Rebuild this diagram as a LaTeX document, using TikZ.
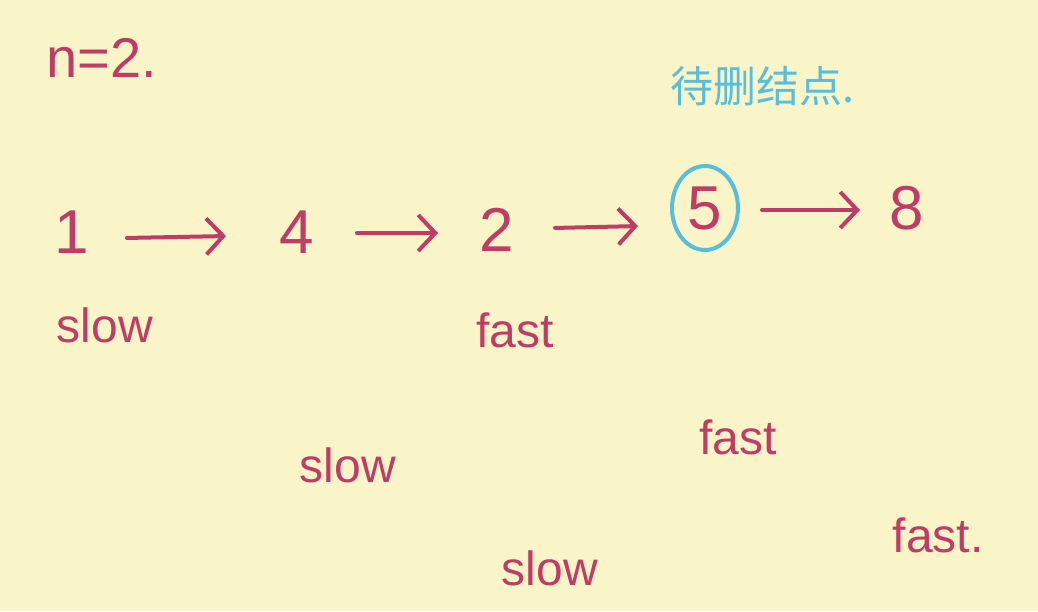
\documentclass[tikz,border=0pt]{standalone}
\usepackage{fontspec}
\setmainfont{Liberation Sans}
\newfontfamily\cjk{Noto Sans CJK SC}
\usetikzlibrary{arrows.meta}
\definecolor{bg}{RGB}{250,245,200}
\definecolor{ink}{RGB}{190,60,102}
\definecolor{blueink}{RGB}{88,190,222}
\tikzset{
  num/.style={text=ink, font=\fontsize{62}{62}\selectfont, inner sep=0pt},
  lbl/.style={text=ink, font=\fontsize{48}{48}\selectfont, inner sep=0pt},
  link/.style={draw=ink, line width=4pt, line cap=round, -{Straight Barb[length=17pt,width=36pt,line width=4pt]}, shorten >=2pt, shorten <=2pt},
}
\begin{document}
\begin{tikzpicture}[x=1pt,y=-1pt]
\fill[bg] (0,0) rectangle (1038,611);
\useasboundingbox (0,0) rectangle (1038,611);
\node[lbl, font=\fontsize{56}{56}\selectfont] (n) at (102,58) {n=2.};
\node[text=blueink, font=\cjk\fontsize{43}{43}\selectfont, inner sep=0pt] (t) at (762,86) {待删结点.};
\node[num] (a) at (72,232) {1};
\node[num] (b) at (297,232) {4};
\node[num] (c) at (497,230) {2};
\node[num] (d) at (705,208) {5};
\node[num] (e) at (907,208) {8};
\draw[blueink, line width=4pt] (d) ellipse [x radius=33, y radius=42];
\coordinate (a1) at (125,238); \coordinate (a2) at (228,236);
\coordinate (b1) at (355,233); \coordinate (b2) at (440,233);
\coordinate (c1) at (553,228); \coordinate (c2) at (640,226);
\coordinate (d1) at (760,210); \coordinate (d2) at (862,210);
\draw[link] (a1) -- (a2);
\draw[link] (b1) -- (b2);
\draw[link] (c1) -- (c2);
\draw[link] (d1) -- (d2);
\node[lbl] (s1) at (105,325) {slow};
\node[lbl] (f1) at (515,330) {fast};
\node[lbl] (s2) at (348,465) {slow};
\node[lbl] (f2) at (738,437) {fast};
\node[lbl] (s3) at (550,568) {slow};
\node[lbl] (f3) at (938,535) {fast.};
\end{tikzpicture}
\end{document}
